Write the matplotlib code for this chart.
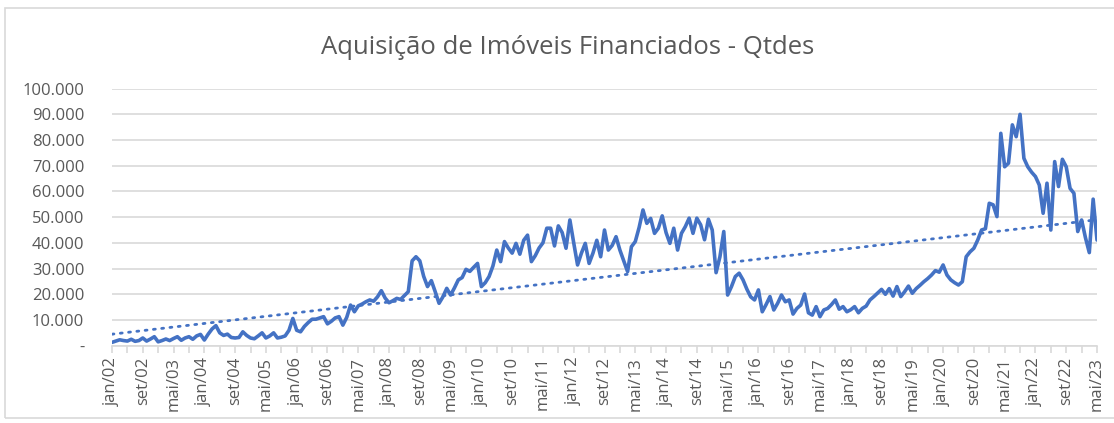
import numpy as np
import matplotlib
matplotlib.use("Agg")
import matplotlib.pyplot as plt
from matplotlib.patches import Rectangle

# monthly values (thousands), jan/02 .. mai/23
y2002 = [1.3, 1.8, 2.3, 2.0, 1.8, 2.5, 1.7, 2.0, 3.0, 1.8, 2.6, 3.5]
y2003 = [1.5, 2.0, 2.6, 2.0, 2.8, 3.5, 2.1, 3.0, 3.5, 2.5, 3.8, 4.4]
y2004 = [2.2, 4.5, 6.5, 7.8, 5.0, 4.0, 4.5, 3.2, 3.0, 3.2, 5.4, 4.0]
y2005 = [3.0, 2.7, 3.8, 5.0, 3.0, 3.8, 5.0, 3.0, 3.3, 3.8, 6.0, 10.6]
y2006 = [6.0, 5.4, 7.5, 9.0, 10.3, 10.3, 10.8, 11.3, 8.5, 9.5, 10.8, 11.3]
y2007 = [8.0, 11.0, 15.8, 13.2, 15.5, 16.2, 17.1, 17.8, 17.3, 19.0, 21.4, 18.5]
y2008 = [16.7, 17.5, 18.4, 18.0, 19.5, 21.0, 33.0, 34.6, 33.0, 27.0, 23.0, 25.3]
y2009 = [21.0, 16.5, 19.0, 22.3, 19.7, 22.5, 25.6, 26.5, 29.7, 28.9, 30.5, 32.0]
y2010 = [23.0, 24.5, 26.9, 31.0, 37.2, 32.7, 40.5, 38.0, 36.0, 39.8, 35.6, 41.0]
y2011 = [43.0, 32.7, 35.0, 38.0, 40.0, 45.7, 45.7, 38.8, 46.6, 44.0, 37.9, 48.9]
y2012 = [40.0, 31.4, 36.0, 39.8, 32.0, 36.0, 41.0, 34.6, 45.0, 37.2, 39.0, 42.4]
y2013 = [37.2, 33.0, 28.8, 38.5, 40.5, 46.0, 52.8, 47.6, 49.5, 43.7, 45.7, 50.5]
y2014 = [44.0, 39.8, 45.7, 37.2, 43.7, 46.3, 49.6, 43.7, 49.6, 47.0, 41.2, 49.2]
y2015 = [45.0, 28.4, 34.6, 44.4, 19.7, 23.0, 26.9, 28.2, 25.6, 22.0, 19.0, 17.8]
y2016 = [21.7, 13.2, 16.0, 19.1, 13.9, 16.5, 19.7, 17.1, 17.8, 12.3, 14.5, 15.8]
y2017 = [20.1, 12.8, 11.9, 15.2, 11.3, 13.9, 14.5, 16.0, 17.8, 14.2, 15.2, 13.2]
y2018 = [14.0, 15.2, 12.8, 14.5, 15.4, 17.8, 19.1, 20.5, 21.9, 20.0, 22.2, 19.3]
y2019 = [23.0, 19.1, 21.0, 23.2, 20.4, 22.2, 23.5, 24.9, 26.1, 27.5, 29.2, 28.6]
y2020 = [31.4, 27.5, 25.6, 24.5, 23.6, 24.9, 34.6, 36.5, 37.9, 41.1, 45.0, 45.5]
y2021 = [55.4, 54.8, 50.2, 82.6, 69.6, 71.0, 85.9, 81.3, 90.0, 72.9, 69.6, 67.5]
y2022 = [65.8, 62.5, 51.5, 63.2, 45.0, 71.6, 61.9, 72.5, 69.6, 61.2, 59.3, 44.4]
y2023 = [48.9, 42.0, 36.2, 57.0, 41.1]

x_labels = ["jan/02", "set/02", "mai/03", "jan/04", "set/04", "mai/05", "jan/06",
            "set/06", "mai/07", "jan/08", "set/08", "mai/09", "jan/10", "set/10",
            "mai/11", "jan/12", "set/12", "mai/13", "jan/14", "set/14", "mai/15",
            "jan/16", "set/16", "mai/17", "jan/18", "set/18", "mai/19", "jan/20",
            "set/20", "mai/21", "jan/22", "set/22", "mai/23"]
y_ticks = [0, 10000, 20000, 30000, 40000, 50000, 60000, 70000, 80000, 90000, 100000]
y_labels = ["-", "10.000", "20.000", "30.000", "40.000", "50.000", "60.000",
            "70.000", "80.000", "90.000", "100.000"]

values = np.array(y2002 + y2003 + y2004 + y2005 + y2006 + y2007 + y2008 + y2009
                  + y2010 + y2011 + y2012 + y2013 + y2014 + y2015 + y2016 + y2017
                  + y2018 + y2019 + y2020 + y2021 + y2022 + y2023) * 1000
months = np.arange(len(values))

# linear trendline (like excel)
coef = np.polyfit(months, values, 1)
trend = np.polyval(coef, months)

W, H = 1114, 423
fig = plt.figure(figsize=(W / 100, H / 100), dpi=100)
plt.rcParams['font.family'] = ['Open Sans', 'DejaVu Sans']

# chart frame
fig.patches.append(Rectangle((5 / W, 1 - 418 / H), 1.2, 410 / H, transform=fig.transFigure,
                             fill=False, edgecolor="#d9d9d9", linewidth=1.2))

ax = fig.add_axes([112 / W, 1 - 345.7 / H, 985 / W, 257.1 / H])
color = "#4472C4"
ax.plot(months, values, color=color, linewidth=2.6, solid_joinstyle="round",
        solid_capstyle="round", zorder=3)
ax.plot(months, trend, color=color, linewidth=2.0, linestyle=(0, (0.7, 2.3)),
        dash_capstyle="round", zorder=2)

ax.set_xlim(0, len(values) - 1)
ax.set_ylim(0, 100000)
ax.set_yticks(y_ticks)
ax.set_yticklabels(y_labels)
ax.set_xticks(np.arange(0, len(values), 8))
ax.set_xticklabels(x_labels, rotation=90)
ax.set_xticks(np.arange(0, len(values), 4), minor=True)

ax.grid(axis="y", color="#d9d9d9", linewidth=1.2)
ax.set_axisbelow(True)
for s in ["left", "right", "top"]:
    ax.spines[s].set_visible(False)
ax.spines["bottom"].set_color("#d9d9d9")
ax.spines["bottom"].set_linewidth(1.2)
ax.tick_params(axis="y", length=0, pad=20, labelsize=12, labelcolor="#595959")
ax.tick_params(axis="x", which="both", length=5, color="#d9d9d9", width=1.2,
               labelsize=12, labelcolor="#595959", pad=3)

fig.text(568 / W, 1 - 47 / H, "Aquisição de Imóveis Financiados - Qtdes",
         ha="center", va="center", fontsize=18.5, color="#595959")

fig.savefig("out.png", dpi=100)
